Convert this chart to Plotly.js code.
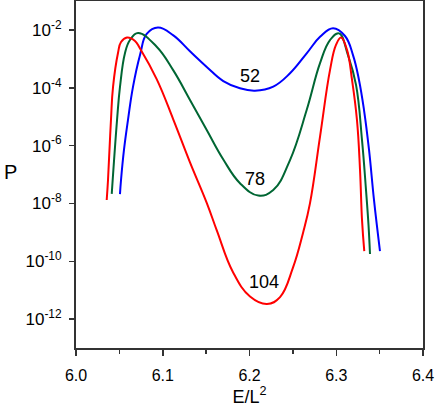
<!DOCTYPE html>
<html><head><meta charset="utf-8">
<script src="https://cdn.plot.ly/plotly-3.0.1.min.js"></script>
<style>body{margin:0;padding:0;background:#fff}#plot{width:436px;height:414px}</style>
</head><body><div id="plot"></div>
<script>
// Series: E/L^2 and log10(P)
var blueX = [6.0507,6.0519,6.0553,6.0599,6.0657,6.0738,6.0815,6.0945,6.1122,6.1314,6.1507,6.1698,6.1890,6.2063,6.2274,6.2467,6.2659,6.2813,6.2963,6.3101,6.3193,6.3262,6.3320,6.3378,6.3435,6.3504];
var blueLogP = [-7.68,-7.19,-6.15,-5.12,-3.97,-2.87,-2.14,-1.92,-2.19,-2.74,-3.28,-3.77,-4.02,-4.10,-3.96,-3.50,-2.81,-2.24,-1.94,-2.21,-2.87,-3.73,-4.77,-6.15,-7.88,-9.65];

var greenX = [6.0412,6.0473,6.0507,6.0565,6.0622,6.0715,6.0930,6.1122,6.1314,6.1507,6.1698,6.1890,6.2101,6.2274,6.2467,6.2659,6.2813,6.2928,6.3032,6.3135,6.3228,6.3297,6.3343,6.3372,6.3389];
var greenLogP = [-7.67,-5.12,-3.97,-2.80,-2.35,-2.11,-2.58,-3.40,-4.42,-5.46,-6.48,-7.30,-7.73,-7.54,-6.50,-4.77,-3.15,-2.35,-2.12,-2.87,-3.90,-5.81,-7.54,-8.75,-9.75];

var redX = [6.0354,6.0369,6.0403,6.0427,6.0484,6.0519,6.0588,6.0680,6.0738,6.0930,6.1122,6.1314,6.1507,6.1625,6.1810,6.2006,6.2202,6.2352,6.2501,6.2617,6.2697,6.2813,6.2928,6.2997,6.3055,6.3124,6.3182,6.3239,6.3274,6.3297,6.3323];
var redLogP = [-7.88,-7.19,-5.12,-3.97,-2.80,-2.42,-2.26,-2.38,-2.64,-3.70,-5.10,-6.58,-7.98,-8.95,-10.38,-11.22,-11.48,-11.24,-10.22,-9.02,-8.00,-5.69,-3.39,-2.52,-2.26,-2.69,-3.73,-5.12,-6.84,-8.57,-9.65];

var seriesLabels = ['52','78','104'];
var labelX = [6.2006, 6.2066, 6.2166];
var labelLogP = [-3.58, -7.16, -10.71];

var yTickExp = [-2,-4,-6,-8,-10,-12];
var xTickVals = [6.0,6.1,6.2,6.3,6.4];
var xTickText = ['6.0','6.1','6.2','6.3','6.4'];

function pw(a){return a.map(function(v){return Math.pow(10,v);});}

var colors = ['#0000ff','#006633','#ff0000'];
var traces = [
  {x: blueX, y: pw(blueLogP)},
  {x: greenX, y: pw(greenLogP)},
  {x: redX, y: pw(redLogP)}
].map(function(t,i){
  t.type='scatter'; t.mode='lines';
  t.line={color:colors[i], width:2, shape:'spline', smoothing:1.2};
  t.hoverinfo='skip'; t.showlegend=false;
  return t;
});

var annotations = seriesLabels.map(function(s,i){
  return {x: labelX[i], y: labelLogP[i], xref:'x', yref:'y', text:s, showarrow:false,
          font:{family:'Liberation Sans, Arial, sans-serif', size:18, color:'#000'}};
});
annotations.push({x:-0.19, y:0.507, xref:'paper', yref:'paper', text:'P', showarrow:false,
  xanchor:'center', yanchor:'middle',
  font:{family:'Liberation Sans, Arial, sans-serif', size:20, color:'#000'}});

var layout = {
  width:436, height:414,
  margin:{l:76, r:13, t:1, b:66, pad:0},
  paper_bgcolor:'#fff', plot_bgcolor:'#fff',
  font:{family:'Liberation Sans, Arial, sans-serif', color:'#000'},
  xaxis:{
    range:[6.0,6.4], tickvals:xTickVals, ticktext:xTickText,
    ticks:'outside', ticklen:6, tickwidth:1.5, tickcolor:'#333',
    minor:{dtick:0.05, tick0:6.0, ticks:'outside', ticklen:3.5, tickwidth:1.5, tickcolor:'#333'},
    showline:true, linecolor:'#333', linewidth:2, mirror:true,
    showgrid:false, zeroline:false,
    tickfont:{size:16, color:'#000'},
    ticklabelstandoff:6,
    title:{text:'E/L<sup>2</sup>', font:{size:18, color:'#000'}, standoff:6}
  },
  yaxis:{
    type:'log', range:[-13,-1],
    tickvals: yTickExp.map(function(e){return Math.pow(10,e);}),
    ticktext: yTickExp.map(function(e){return '10<sup>'+e+'</sup>';}),
    ticks:'outside', ticklen:5, tickwidth:1.5, tickcolor:'#333',
    showline:true, linecolor:'#333', linewidth:2, mirror:true,
    showgrid:false, zeroline:false,
    tickfont:{size:17, color:'#000'},
    ticklabelstandoff:4
  },
  annotations: annotations
};

Plotly.newPlot('plot', traces, layout, {staticPlot:true, displayModeBar:false});
</script>
</body></html>
